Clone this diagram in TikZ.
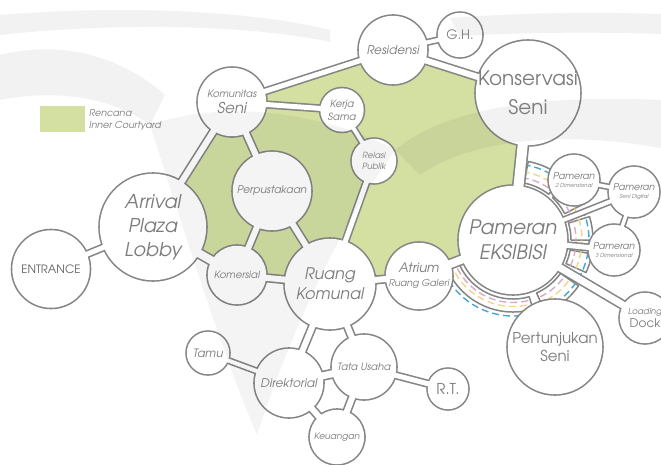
\documentclass[tikz,border=0pt]{standalone}
\usepackage{fontspec}
\setmainfont{texgyreadventor}[Extension=.otf,UprightFont=*-regular,ItalicFont=*-italic,BoldFont=*-bold,BoldItalicFont=*-bolditalic]
\usetikzlibrary{calc}
\definecolor{wallc}{HTML}{858585}
\definecolor{txtc}{HTML}{7C7C7C}
\definecolor{courtc}{HTML}{D3E0A2}
\definecolor{dpink}{HTML}{D9A9C6}
\definecolor{dyel}{HTML}{F1D68C}
\definecolor{dblue}{HTML}{43A7CF}
\pgfdeclarelayer{greenL}\pgfdeclarelayer{ringL}\pgfdeclarelayer{grayL}
\pgfdeclarelayer{corrW}\pgfdeclarelayer{circW}\pgfdeclarelayer{wmL}
\pgfsetlayers{greenL,ringL,grayL,corrW,circW,wmL,main}
\newcommand\fs[2]{\fontsize{#1}{#2}\selectfont}
\tikzset{roomtxt/.style={circle,inner sep=0pt,text=txtc,align=center}}
\newcommand\room[6]{%
  \node[roomtxt,minimum size={2*#4pt},font={#5}] (#1) at (#2,#3) {#6};
  \begin{pgfonlayer}{grayL}\fill[wallc] (#2,#3) circle[radius={#4pt+0.8pt}];\end{pgfonlayer}
  \begin{pgfonlayer}{circW}\fill[white] (#2,#3) circle[radius={#4pt-0.8pt}];\end{pgfonlayer}}
\newcommand\corr[3][6]{%
  \begin{pgfonlayer}{grayL}\draw[wallc,line width={#1pt+3.2pt}] (#2.center) -- (#3.center);\end{pgfonlayer}
  \begin{pgfonlayer}{corrW}\draw[white,line width={#1pt}] (#2.center) -- (#3.center);\end{pgfonlayer}}
\newcommand\piece[4]{%
  \begin{pgfonlayer}{ringL}
  \filldraw[fill=white,draw=wallc,line width=1.5pt,line join=round]
   ([shift={(#1:#3)}]pam.center) arc[start angle=#1,end angle=#2,radius=#3]
   -- ([shift={(#2:#4)}]pam.center) arc[start angle=#2,end angle=#1,radius=#4] -- cycle;
  \end{pgfonlayer}}
\newcommand\darc[4]{%
  \begin{pgfonlayer}{ringL}
  \draw[#1,line width=1.4pt,dash pattern=on 7pt off 4pt]
   ([shift={(#2:#4)}]pam.center) arc[start angle=#2,end angle=#3,radius=#4];
  \end{pgfonlayer}}
\begin{document}
\begin{tikzpicture}[x=1pt,y=-1pt]
\useasboundingbox (0,0) rectangle (661,464);
% ---------- rooms ----------
\room{ent}{51}{269}{39.5}{\fs{11.5}{12}}{\color{black!62}ENTRANCE}
\room{arr}{153}{227}{54}{\itshape\fs{19}{24}}{Arrival\\Plaza\\Lobby}
\room{kom}{232}{102}{35}{\itshape\fs{15}{16}}{{\fs{10}{11}Komunitas}\\Seni}
\room{perp}{272}{191}{40}{\itshape\fs{10.5}{12}}{Perpustakaan}
\room{kerja}{342}{110}{22.5}{\itshape\fs{10}{13}}{Kerja\\Sama}
\room{rel}{374}{161}{23}{\itshape\fs{8.5}{11}}{Relasi\\Publik}
\room{res}{393}{50}{35}{\itshape\fs{12}{13}}{Residensi}
\room{gh}{460}{35}{23}{\fs{13}{14}}{G.H.}
\room{kons}{528}{93}{53}{\fs{20}{29}}{Konservasi\\Seni}
\room{pam}{513}{240}{55}{\itshape\fs{20}{25}}{Pameran\\EKSIBISI}
\room{ptwo}{574}{180}{26}{\itshape\fs{5.5}{8}}{{\fs{9.5}{10}Pameran}\\2 Dimensional}
\room{psd}{634}{192}{26}{\itshape\fs{5.5}{8}}{{\fs{9.5}{10}Pameran}\\Seni Digital}
\room{pthree}{614}{250}{26}{\itshape\fs{5.5}{8}}{{\fs{9.5}{10}Pameran}\\3 Dimensional}
\room{load}{645}{318}{26}{\fs{12}{13}}{{\itshape\fs{8.5}{10}Loading}\\Dock}
\room{pert}{555}{347}{48}{\fs{15}{18}}{Pertunjukan\\Seni}
\room{atr}{419}{276}{34}{\itshape\fs{9.5}{14}}{{\fs{13}{14}Atrium}\\Ruang Galeri}
\room{rk}{330}{284}{46}{\itshape\fs{16}{20}}{Ruang\\Komunal}
\room{kmr}{237}{275}{30}{\itshape\fs{10}{12}}{Komersial}
\room{tamu}{208}{353}{22}{\itshape\fs{11.5}{12}}{Tamu}
\room{dir}{289}{383}{35}{\itshape\fs{12}{13}}{Direktorial}
\room{tu}{364}{367}{33}{\itshape\fs{10}{12}}{Tata Usaha}
\room{rt}{448}{389}{21}{\fs{15}{16}}{R.T.}
\room{keu}{337}{437}{28}{\itshape\fs{9}{10}}{Keuangan}
% ---------- corridors ----------
\corr[5]{ent}{arr}
\corr[6]{arr}{kom}
\corr[8]{arr}{kmr}
\corr[5]{kom}{res}
\corr[5]{kom}{kerja}
\corr[6]{kom}{perp}
\corr[6]{perp}{kmr}
\corr[6]{perp}{rk}
\corr[6]{kmr}{rk}
\corr[4]{kerja}{rel}
\corr[5]{rel}{rk}
\corr[6]{rk}{atr}
\corr[8]{atr}{pam}
\corr[4]{res}{gh}
\corr[6]{res}{kons}
\corr[10]{kons}{pam}
\corr[4]{pam}{psd}
\corr[5]{pam}{pthree}
\corr[7]{pam}{load}
\corr[3.5]{ptwo}{psd}
\corr[3.5]{psd}{pthree}
\corr[6]{rk}{dir}
\corr[6]{rk}{tu}
\corr[4]{dir}{tamu}
\corr[7]{dir}{tu}
\corr[6]{dir}{keu}
\corr[6]{tu}{keu}
\corr[5]{tu}{rt}
% ---------- circulation ring around the exhibition ----------
\piece{-79}{-52}{58}{80}
\piece{-47}{-27}{58}{80}
\piece{-17}{0}{58}{80}
\piece{10}{24}{58}{80}
\piece{35}{66}{58}{80}
\piece{74}{156}{59}{72}
\darc{dpink}{-82}{68}{63}
\darc{dyel}{-82}{68}{69}
\darc{dblue}{-82}{50}{76}
\darc{dpink}{76}{154}{62.5}
\darc{dyel}{78}{152}{66.5}
\darc{dblue}{84}{150}{76}
% ---------- inner courtyards ----------
\begin{pgfonlayer}{greenL}
\fill[courtc] (arr.center) -- (kom.center) -- (perp.center) -- (kmr.center) -- cycle;
\fill[courtc] (perp.center) -- (kmr.center) -- (rk.center) -- cycle;
\fill[courtc] (kom.center) -- (kerja.center) -- (rel.center) -- (rk.center) -- (perp.center) -- cycle;
\fill[courtc] (kom.center) -- (res.center) -- (kons.center) -- (pam.center) -- (atr.center) -- (rk.center) -- (rel.center) -- (kerja.center) -- cycle;
\end{pgfonlayer}
% ---------- legend ----------
\node[fill=courtc,minimum width=45pt,minimum height=26pt,inner sep=0pt] (legbox) at (62.5,119) {};
\node[anchor=west,text=txtc,align=left,inner sep=0pt,font=\itshape\fs{9.5}{12.5}] (legtxt) at (89,120) {Rencana\\Inner Courtyard};
% ---------- watermark ----------
\begin{pgfonlayer}{wmL}
\fill[black,opacity=0.045] (150,125) .. controls (190,250) and (225,360) .. (257,435)
  .. controls (285,350) and (330,240) .. (395,150) .. controls (320,110) and (220,100) .. (150,125) -- cycle;
\fill[black,opacity=0.05] (0,55) .. controls (60,40) and (120,55) .. (165,95) -- (150,125)
  .. controls (110,95) and (50,90) .. (0,100) -- cycle;
\fill[black,opacity=0.05] (395,150) .. controls (450,105) and (550,95) .. (661,100) -- (661,148)
  .. controls (560,130) and (470,140) .. (420,175) -- cycle;
\fill[black,opacity=0.05] (0,15) .. controls (120,5) and (250,10) .. (330,30) -- (330,42)
  .. controls (250,25) and (120,22) .. (0,35) -- cycle;
\fill[black,opacity=0.05] (450,18) .. controls (530,12) and (600,12) .. (661,14) -- (661,34)
  .. controls (600,32) and (530,32) .. (460,36) -- cycle;
\end{pgfonlayer}
\end{tikzpicture}
\end{document}
